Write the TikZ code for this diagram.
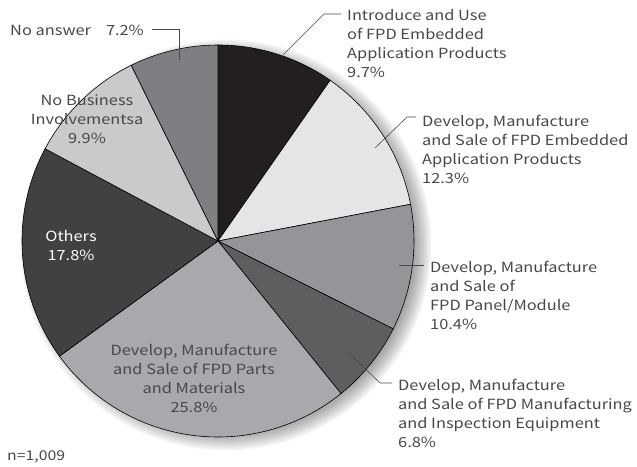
\documentclass[tikz,border=0pt]{standalone}
\usepackage{fontspec}
\setmainfont[FakeStretch=1.17]{Noto Sans CJK JP}
\usepackage{tikz}
\usetikzlibrary{positioning}
\definecolor{fpdBlack}{RGB}{35,31,32}
\definecolor{fpdPale}{RGB}{228,229,230}
\definecolor{fpdMid}{RGB}{148,149,152}
\definecolor{fpdDark}{RGB}{94,94,96}
\definecolor{fpdSilver}{RGB}{167,169,172}
\definecolor{fpdCoal}{RGB}{65,64,66}
\definecolor{fpdLight}{RGB}{201,202,204}
\definecolor{fpdSteel}{RGB}{126,127,130}
\definecolor{fpdText}{RGB}{72,72,72}
\tikzset{
  slice/.style={draw=black, line width=0.6pt},
  lbl/.style={font=\fontsize{14}{19}\selectfont, text=fpdText, align=left,
    anchor=north west, inner xsep=6pt, inner ysep=0pt},
  inlbl/.style={font=\fontsize{14}{19}\selectfont, align=center, inner sep=0pt},
  leader/.style={draw=fpdText, line width=0.6pt}
}

\begin{document}
\begin{tikzpicture}[x=1pt, y=1pt]
  \useasboundingbox (0,0) rectangle (637,466);
  \coordinate (ctr) at (218,225);

  \foreach \k in {0,...,13}
    \fill[black, opacity=0.035] (226,221) circle (186+\k*1.5);
  \foreach \a/\b/\c in {90/55.08/fpdBlack, 55.08/10.8/fpdPale, 10.8/-26.64/fpdMid,
      -26.64/-51.12/fpdDark, -51.12/-144/fpdSilver, -144/-208.08/fpdCoal,
      -208.08/-243.72/fpdLight, -243.72/-270/fpdSteel}
    \filldraw[slice, fill=\c] (ctr) -- ++(\a:196) arc (\a:\b:196) -- cycle;

  \node[inlbl, text=fpdText] (nobiz) at (87,347) {No Business\\Involvementsa\\9.9\%};
  \node[inlbl, text=white] (others) at (71,220) {Others\\17.8\%};
  \node[inlbl, text=fpdText] (parts) at (194,88) {Develop, Manufacture\\and Sale of FPD Parts\\and Materials\\25.8\%};

  \node[lbl] (intro) at (341,457) {Introduce and Use\\of FPD Embedded\\Application Products\\9.7\%};
  \node[lbl] (embed) at (416,351) {Develop, Manufacture\\and Sale of FPD Embedded\\Application Products\\12.3\%};
  \node[lbl] (panel) at (424,205) {Develop, Manufacture\\and Sale of\\FPD Panel/Module\\10.4\%};
  \node[lbl] (equip) at (392,87) {Develop, Manufacture\\and Sale of FPD Manufacturing\\and Inspection Equipment\\6.8\%};
  \node[lbl, inner xsep=0pt] (noans) at (10,441) {No answer\hspace{15pt}7.2\%};
  \node[lbl, font=\fontsize{13.5}{16}\selectfont, inner xsep=0pt] (count) at (7,16) {n=1,009};

  \coordinate (introPt) at (283,411);
  \coordinate (introBend) at (324,452);
  \draw[leader] (introPt) -- (introBend) -- (introBend -| intro.west);
  \coordinate (embedPt) at (375,318);
  \coordinate (embedBend) at (407,349);
  \draw[leader] (embedPt) -- (embedBend) -- (embedBend -| embed.west);
  \coordinate (panelPt) at (399,201);
  \draw[leader] (panelPt) -- (panelPt -| panel.west);
  \coordinate (equipPt) at (350,112);
  \coordinate (equipBend) at (380,83);
  \draw[leader] (equipPt) -- (equipBend) -- (equipBend -| equip.west);
  \coordinate (noansPt) at (179,406);
  \coordinate (noansBend) at (179,437);
  \draw[leader] (noansPt) -- (noansBend) -- ([xshift=8pt]noansBend -| noans.east);
\end{tikzpicture}
\end{document}
